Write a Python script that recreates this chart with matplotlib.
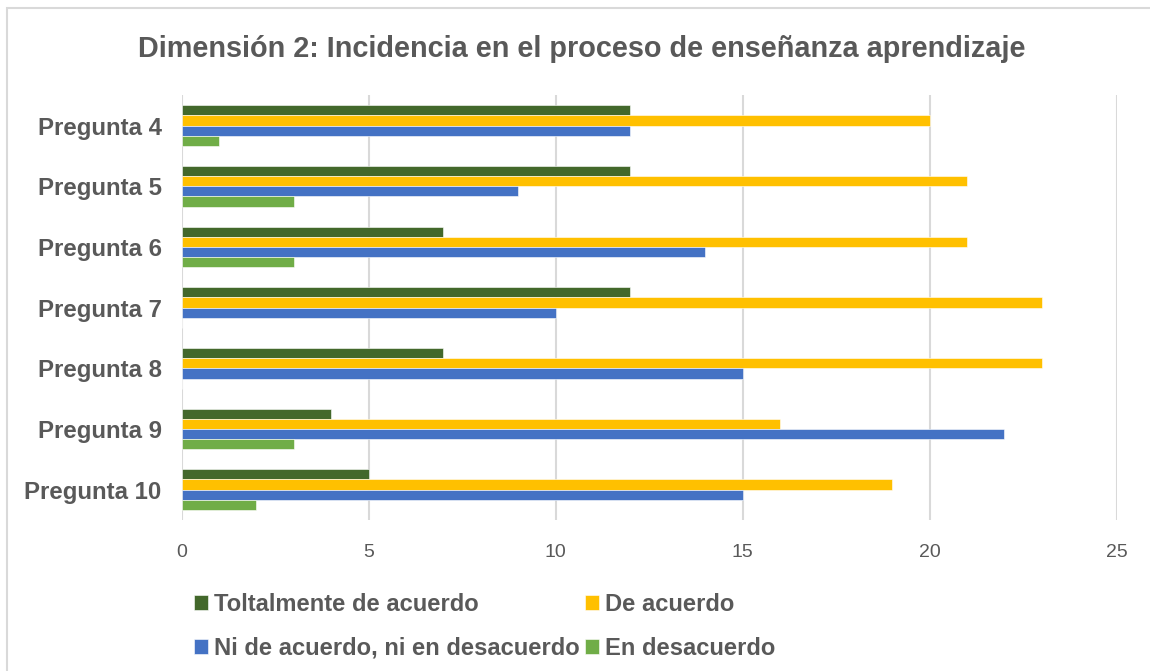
import matplotlib.pyplot as plt
import numpy as np
from matplotlib.patches import Rectangle

plt.rcParams['font.family'] = ['Liberation Sans', 'DejaVu Sans']

preguntas = ['Pregunta 4', 'Pregunta 5', 'Pregunta 6', 'Pregunta 7',
             'Pregunta 8', 'Pregunta 9', 'Pregunta 10']
series = ['Toltalmente de acuerdo', 'De acuerdo',
          'Ni de acuerdo, ni en desacuerdo', 'En desacuerdo']
totalmente = [12, 12, 7, 12, 7, 4, 5]
de_acuerdo = [20, 21, 21, 23, 23, 16, 19]
ni_ni = [12, 9, 14, 10, 15, 22, 15]
desacuerdo = [1, 3, 3, 0, 0, 3, 2]
colores = ['#43682B', '#FFC000', '#4472C4', '#70AD47']
ticks_x = [0, 5, 10, 15, 20, 25]

gris = '#595959'
fig = plt.figure(figsize=(11.5, 6.71), dpi=100)
ax = fig.add_axes([0.158, 0.225, 0.813, 0.633])

y = np.arange(len(preguntas))
h = 0.168
valores = [totalmente, de_acuerdo, ni_ni, desacuerdo]
barras = []
for i, (vals, nombre, c) in enumerate(zip(valores, series, colores)):
    b = ax.barh(y + (i - 1.5) * h, vals, height=h, color=c, label=nombre,
                edgecolor='white', linewidth=0.4, zorder=3)
    barras.append(b)

ax.set_ylim(len(preguntas) - 0.5, -0.5)
ax.set_xlim(0, 25)
ax.set_xticks(ticks_x)
ax.set_yticks(y)
ax.set_yticklabels(preguntas, fontsize=17.3, fontweight='bold', color=gris)
ax.tick_params(axis='x', labelsize=14, colors=gris, length=0, pad=17)
ax.tick_params(axis='y', length=0, pad=14.5)
ax.grid(axis='x', color='#D9D9D9', linewidth=1.5, zorder=0)
for s in ax.spines.values():
    s.set_visible(False)

fig.suptitle('Dimensión 2: Incidencia en el proceso de enseñanza aprendizaje',
             x=0.506, y=0.948, fontsize=20.8, fontweight='bold', color=gris)

# orden para que quede por filas: ncol=2 llena por columnas
orden = [0, 2, 1, 3]
leg = fig.legend([barras[k] for k in orden], [series[k] for k in orden],
                 ncol=2, loc='lower left', bbox_to_anchor=(0.150, -0.015),
                 frameon=False, prop={'size': 17.1, 'weight': 'bold'},
                 handlelength=0.6, handleheight=0.6, handletextpad=0.25,
                 columnspacing=0.2, labelspacing=0.88)
for t in leg.get_texts():
    t.set_color(gris)

fig.patches.append(Rectangle((7 / 1150, -0.1), 1.2, 1 - 8 / 671 + 0.1,
                             transform=fig.transFigure, fill=False,
                             edgecolor='#D9D9D9', linewidth=1.5))

fig.savefig('out.png', dpi=100)
